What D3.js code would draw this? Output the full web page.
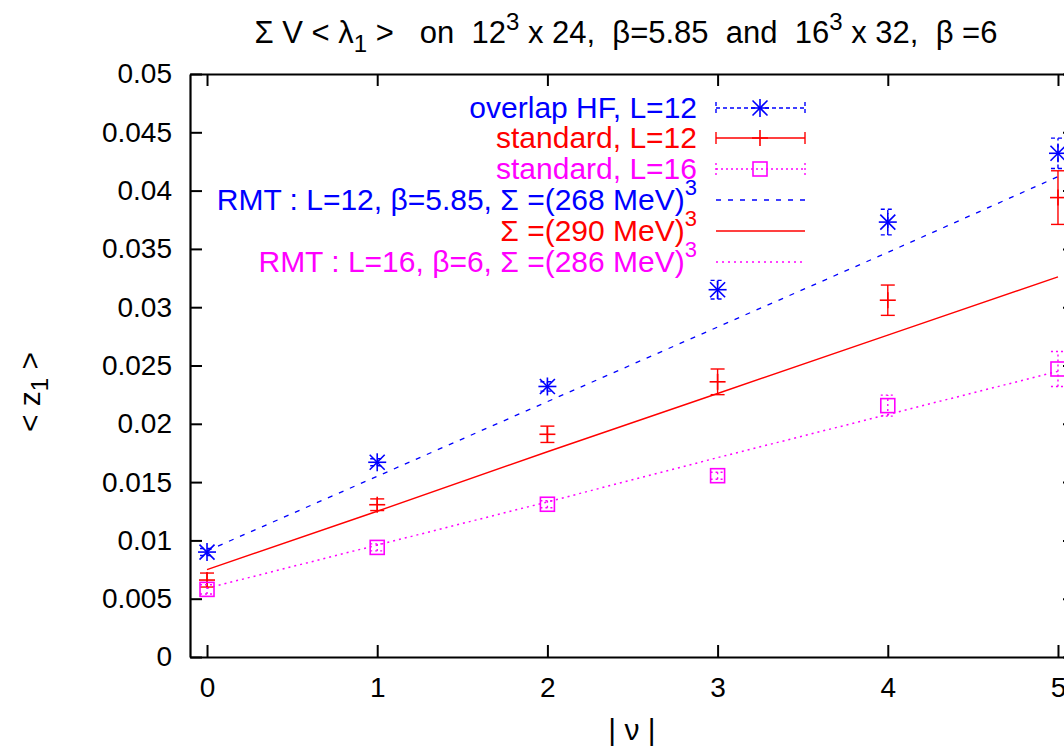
<!DOCTYPE html>
<html><head><meta charset="utf-8">
<script src="https://cdn.jsdelivr.net/npm/d3@7"></script>
<style>body{margin:0;background:#fff;}svg{display:block;font-family:"Liberation Sans",Arial,sans-serif;}</style>
</head><body>
<svg id="c" width="1064" height="751"></svg>
<script>
// ---- data ----
const nu = [0, 1, 2, 3, 4, 5];
const overlapL12 = [0.0090, 0.01670, 0.02320, 0.03150, 0.03730, 0.04320];
const overlapL12Err = [0.0003, 0.0003, 0.0004, 0.0008, 0.0011, 0.0013];
const standardL12 = [0.0066, 0.01306, 0.01910, 0.02360, 0.03060, 0.03940];
const standardL12Err = [0.0006, 0.0005, 0.0007, 0.0011, 0.0013, 0.0023];
const standardL16 = [0.0058, 0.00940, 0.01310, 0.01555, 0.02156, 0.02470];
const standardL16Err = [0.0004, 0.0003, 0.0003, 0.0003, 0.0009, 0.0015];
const rmtL12 = [0.0091, 0.0155, 0.0219, 0.0283, 0.0347, 0.0412];
const rmt290 = [0.0075, 0.0125, 0.0176, 0.0226, 0.0276, 0.0326];
const rmtL16 = [0.0059, 0.0096, 0.0133, 0.0171, 0.0208, 0.0245];
const yTicks = [0, 0.005, 0.01, 0.015, 0.02, 0.025, 0.03, 0.035, 0.04, 0.045, 0.05];
const yTickLabels = ["0","0.005","0.01","0.015","0.02","0.025","0.03","0.035","0.04","0.045","0.05"];
const xTicks = [0, 1, 2, 3, 4, 5];

const blue = "#0000ff", red = "#ff0000", mag = "#ff00ff";
const svg = d3.select("#c");
const L = 190, T = 74, B = 657, R = 1075;
const x = d3.scaleLinear().domain([-0.1, 5.1]).range([L, R]);
const y = d3.scaleLinear().domain([0, 0.05]).range([B, T]);
const TFS = 28, FS = 30;

// axes frame
const g = svg.append("g");
const tickLen = 12;
const axL = d3.axisLeft(y).tickValues(yTicks).tickFormat((d,i)=>yTickLabels[i]).tickSizeInner(-tickLen).tickSizeOuter(0).tickPadding(tickLen+6);
const gl = g.append("g").attr("transform",`translate(${L},0)`).call(axL);
const axR = d3.axisRight(y).tickValues(yTicks).tickFormat("").tickSizeInner(-tickLen).tickSizeOuter(0);
const gr = g.append("g").attr("transform",`translate(${R},0)`).call(axR);
const axB = d3.axisBottom(x).tickValues(xTicks).tickFormat(d3.format("d")).tickSizeInner(-tickLen).tickSizeOuter(0).tickPadding(tickLen+8);
const gb = g.append("g").attr("transform",`translate(0,${B})`).call(axB);
const axT = d3.axisTop(x).tickValues(xTicks).tickFormat("").tickSizeInner(-tickLen).tickSizeOuter(0);
const gt = g.append("g").attr("transform",`translate(0,${T})`).call(axT);
[gl,gr,gb,gt].forEach(a=>{
  a.attr("font-size",TFS).attr("font-family","Liberation Sans, Arial, sans-serif");
  a.selectAll("path.domain").attr("stroke","#000").attr("stroke-width",2.2);
  a.selectAll(".tick line").attr("stroke","#000").attr("stroke-width",2);
  a.selectAll(".tick text").attr("fill","#000");
});

// lines
const line = d3.line().x((d,i)=>x(nu[i])).y(d=>y(d));
const plot = svg.append("g");
plot.append("path").datum(rmtL12).attr("d",line).attr("fill","none").attr("stroke",blue).attr("stroke-width",1.3).attr("stroke-dasharray","5,7");
plot.append("path").datum(rmt290).attr("d",line).attr("fill","none").attr("stroke",red).attr("stroke-width",1.4);
plot.append("path").datum(rmtL16).attr("d",line).attr("fill","none").attr("stroke",mag).attr("stroke-width",1.5).attr("stroke-dasharray","2,4");

function errBars(vals, errs, color, dash){
  const cap = 7;
  vals.forEach((v,i)=>{
    const cx = x(nu[i]), y1 = y(v-errs[i]), y2 = y(v+errs[i]);
    const gg = plot.append("g").attr("stroke",color).attr("stroke-width",1.4).attr("stroke-dasharray",dash||null);
    gg.append("line").attr("x1",cx).attr("x2",cx).attr("y1",y1).attr("y2",y2);
    gg.append("line").attr("x1",cx-cap).attr("x2",cx+cap).attr("y1",y1).attr("y2",y1);
    gg.append("line").attr("x1",cx-cap).attr("x2",cx+cap).attr("y1",y2).attr("y2",y2);
  });
}
function star(gg, cx, cy, color){
  const s = 9, d = 7.5;
  const p = gg.append("g").attr("stroke",color).attr("stroke-width",1.6);
  p.append("line").attr("x1",cx-s).attr("x2",cx+s).attr("y1",cy).attr("y2",cy);
  p.append("line").attr("x1",cx).attr("x2",cx).attr("y1",cy-s).attr("y2",cy+s);
  p.append("line").attr("x1",cx-d).attr("x2",cx+d).attr("y1",cy-d).attr("y2",cy+d);
  p.append("line").attr("x1",cx-d).attr("x2",cx+d).attr("y1",cy+d).attr("y2",cy-d);
}
function plus(gg, cx, cy, color){
  const s = 8;
  const p = gg.append("g").attr("stroke",color).attr("stroke-width",1.6);
  p.append("line").attr("x1",cx-s).attr("x2",cx+s).attr("y1",cy).attr("y2",cy);
  p.append("line").attr("x1",cx).attr("x2",cx).attr("y1",cy-s).attr("y2",cy+s);
}
function square(gg, cx, cy, color){
  gg.append("rect").attr("x",cx-7).attr("y",cy-7).attr("width",14).attr("height",14).attr("fill","none").attr("stroke",color).attr("stroke-width",1.6);
}

errBars(overlapL12, overlapL12Err, blue, "4,3");
overlapL12.forEach((v,i)=>star(plot, x(nu[i]), y(v), blue));
errBars(standardL12, standardL12Err, red, null);
standardL12.forEach((v,i)=>plus(plot, x(nu[i]), y(v), red));
errBars(standardL16, standardL16Err, mag, "2,3");
standardL16.forEach((v,i)=>square(plot, x(nu[i]), y(v), mag));

// legend
const legTextX = 697, sx1 = 716, sx2 = 805, smid = 760;
const rows = [108, 138, 169, 200, 231, 262];
const leg = svg.append("g").attr("font-size",FS);
function legText(yy, color, parts){
  const t = leg.append("text").attr("x",legTextX).attr("y",yy+10).attr("text-anchor","end").attr("fill",color);
  parts.forEach(p=>{
    const ts = t.append("tspan").text(p.t);
    if(p.sup){ ts.attr("font-size",22).attr("dy",-15); }
  });
  return t;
}
legText(rows[0], blue, [{t:"overlap HF, L=12"}]);
legText(rows[1], red, [{t:"standard, L=12"}]);
legText(rows[2], mag, [{t:"standard, L=16"}]);
legText(rows[3], blue, [{t:"RMT : L=12, β=5.85, Σ =(268 MeV)"},{t:"3",sup:true}]);
legText(rows[4], red, [{t:"Σ =(290 MeV)"},{t:"3",sup:true}]);
legText(rows[5], mag, [{t:"RMT : L=16, β=6, Σ =(286 MeV)"},{t:"3",sup:true}]);

function legSample(yy, color, dash, marker){
  const gg = leg.append("g").attr("stroke",color).attr("stroke-width",1.4).attr("stroke-dasharray",dash||null);
  gg.append("line").attr("x1",sx1).attr("x2",sx2).attr("y1",yy).attr("y2",yy);
  gg.append("line").attr("x1",sx1).attr("x2",sx1).attr("y1",yy-6).attr("y2",yy+6);
  gg.append("line").attr("x1",sx2).attr("x2",sx2).attr("y1",yy-6).attr("y2",yy+6);
  marker(leg, smid, yy, color);
}
legSample(rows[0], blue, "4,3", star);
legSample(rows[1], red, null, plus);
legSample(rows[2], mag, "2,3", square);
leg.append("line").attr("x1",sx1).attr("x2",sx2).attr("y1",rows[3]).attr("y2",rows[3]).attr("stroke",blue).attr("stroke-width",1.3).attr("stroke-dasharray","5,7");
leg.append("line").attr("x1",sx1).attr("x2",sx2).attr("y1",rows[4]).attr("y2",rows[4]).attr("stroke",red).attr("stroke-width",1.4);
leg.append("line").attr("x1",sx1).attr("x2",sx2).attr("y1",rows[5]).attr("y2",rows[5]).attr("stroke",mag).attr("stroke-width",1.5).attr("stroke-dasharray","2,4");

// title
const title = svg.append("text").attr("x",626).attr("y",43).attr("text-anchor","middle").attr("font-size",31).attr("fill","#000").style("white-space","pre");
title.append("tspan").text("Σ V < λ");
title.append("tspan").text("1").attr("font-size",24).attr("dy",9);
title.append("tspan").text(" >   on  12").attr("dy",-9);
title.append("tspan").text("3").attr("font-size",24).attr("dy",-13);
title.append("tspan").text(" x 24,  β=5.85  and  16").attr("dy",13);
title.append("tspan").text("3").attr("font-size",24).attr("dy",-13);
title.append("tspan").text(" x 32,  β =6").attr("dy",13);

// axis labels
svg.append("text").attr("x",632).attr("y",740).attr("text-anchor","middle").attr("font-size",FS).style("white-space","pre").text("| ν |");
const yl = svg.append("text").attr("transform","translate(40,392) rotate(-90)").attr("text-anchor","middle").attr("font-size",FS).style("white-space","pre");
yl.append("tspan").text("< z");
yl.append("tspan").text("1").attr("font-size",24).attr("dy",8);
yl.append("tspan").text(" >").attr("dy",-8);
</script>
</body></html>
